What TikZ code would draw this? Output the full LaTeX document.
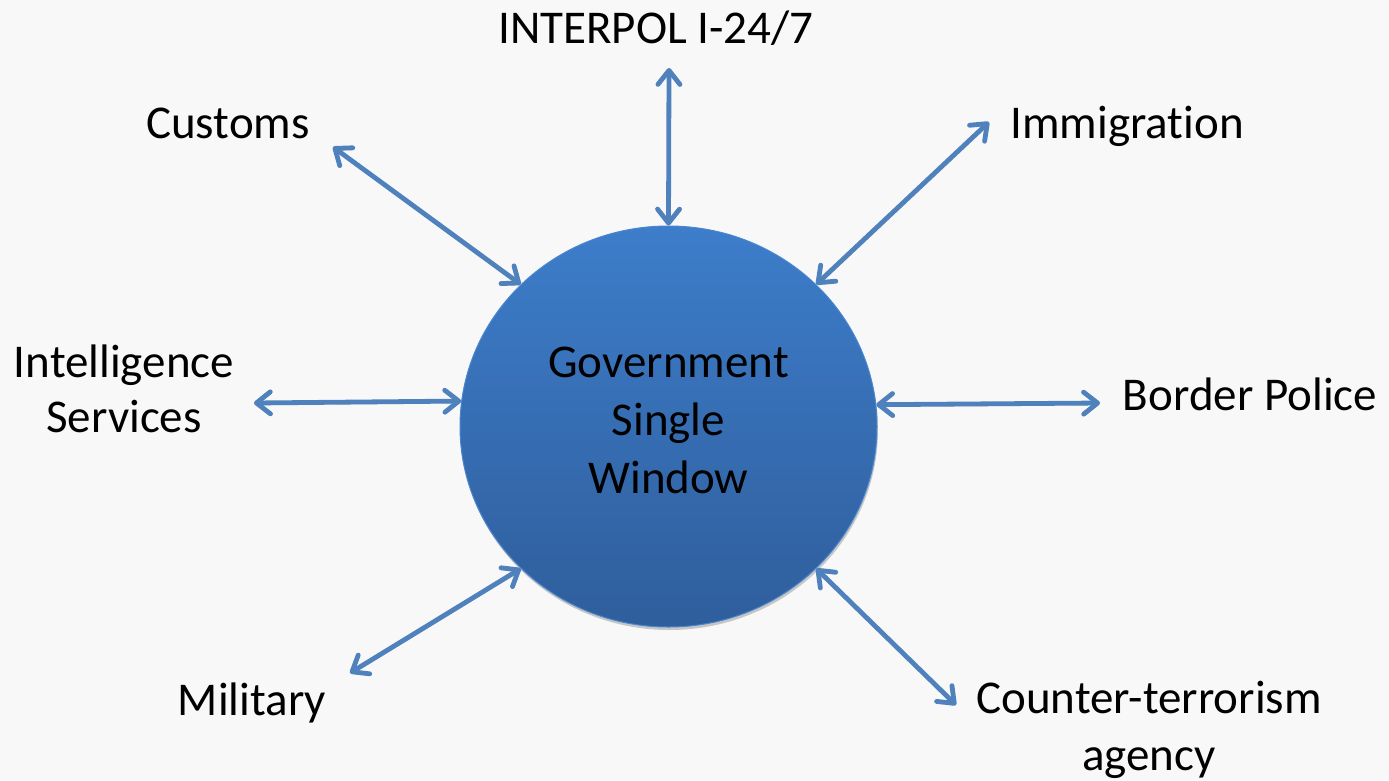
\documentclass[tikz,border=0pt]{standalone}
\usepackage{fontspec}
\setmainfont{Carlito}[Ligatures=NoCommon]
\usetikzlibrary{arrows.meta,shapes.geometric,shadows}
\definecolor{bg}{HTML}{F8F8F8}
\definecolor{arrowblue}{HTML}{4F81BD}
\definecolor{ctop}{HTML}{3D7DCA}
\definecolor{cbot}{HTML}{2F5E9C}
\definecolor{cedge}{HTML}{4A86CF}
\begin{document}
\begin{tikzpicture}[x=1pt,y=-1pt,
  lbl/.style={font=\fontsize{47}{56}\selectfont, inner sep=0pt, anchor=base, align=center, text=black},
  link/.style={draw=arrowblue, line width=4.8pt, line cap=round,
    {Straight Barb[length=14pt,width=22pt,round]}-{Straight Barb[length=14pt,width=22pt,round]},
    preaction={draw=black, opacity=0.12, transform canvas={xshift=0.6pt,yshift=-2.2pt}}},
]
\useasboundingbox[fill=bg] (0,0) rectangle (1389,780);

\node[ellipse, minimum width=417pt, minimum height=401pt, inner sep=0pt,
      top color=ctop, bottom color=cbot, draw=cedge, line width=1pt,
      drop shadow={shadow xshift=1pt, shadow yshift=-3pt, opacity=0.2, fill=black}] (gsw) at (668.5,426.5) {};
\node[lbl, font=\fontsize{47}{58}\selectfont] (gswtext) at (668.5,493) {Government\\Single\\Window};

\node[lbl] (interpol) at (656,43) {INTERPOL I-24/7};
\node[lbl] (customs) at (228,138) {Customs};
\node[lbl] (immig) at (1127,138) {Immigration};
\node[lbl, font=\fontsize{47}{55}\selectfont] (intel) at (124,432) {Intelligence\\Services};
\node[lbl] (border) at (1250,410) {Border Police};
\node[lbl] (mil) at (252,715) {Military};
\node[lbl, font=\fontsize{47}{57}\selectfont] (ct) at (1149,770) {Counter-terrorism\\agency};

\coordinate (interpolEnd) at (669,68);
\coordinate (customsEnd) at (333,147);
\coordinate (immigEnd) at (989,122);
\coordinate (intelEnd) at (254,403);
\coordinate (borderEnd) at (1100,403);
\coordinate (milEnd) at (350,673);
\coordinate (ctEnd) at (956,705);

\draw[link] (interpolEnd) -- (gsw.north);
\draw[link] (customsEnd) -- (gsw.north west);
\draw[link] (immigEnd) -- (gsw.north east);
\draw[link] (intelEnd) -- (gsw.173.5);
\draw[link] (borderEnd) -- (gsw.6.5);
\draw[link] (milEnd) -- (gsw.south west);
\draw[link] (ctEnd) -- (gsw.south east);
\end{tikzpicture}
\end{document}
